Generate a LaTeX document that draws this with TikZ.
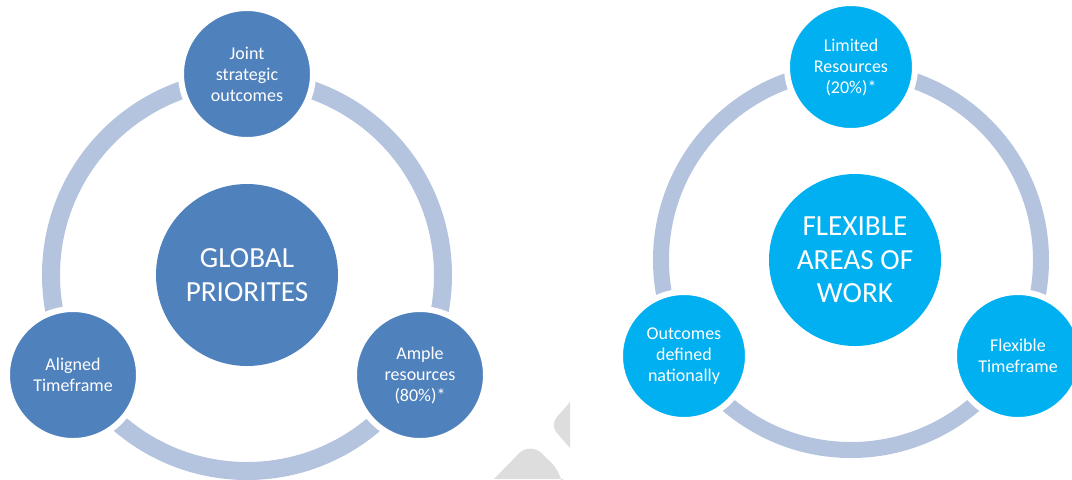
\documentclass[tikz,border=0pt]{standalone}
\usepackage{fontspec}
\setmainfont{Carlito}
\definecolor{globalblue}{RGB}{79,129,189}
\definecolor{flexblue}{RGB}{0,176,240}
\definecolor{ringgrey}{RGB}{180,195,222}
\definecolor{markgrey}{RGB}{221,221,221}
\tikzset{
  ring/.style={draw=ringgrey, line width=9pt},
  bigdisc/.style={circle, fill=#1, text=white, align=center,
    font=\fontsize{14.6}{16.7}\selectfont, inner sep=0pt},
  smalldisc/.style={circle, fill=#1, draw=white, line width=3pt, text=white,
    align=center, font=\fontsize{9}{10.5}\selectfont, inner sep=0pt, minimum size=66pt}
}
\begin{document}
\begin{tikzpicture}[x=0.5pt, y=-0.5pt]
  \useasboundingbox (0,0) rectangle (1072,479);

  % global priorities
  \coordinate (gc) at (247,275);
  \draw[ring] (gc) circle [radius=196];
  \node[bigdisc=globalblue, minimum size=91pt] (global) at (gc) {GLOBAL\\PRIORITES};
  \node[smalldisc=globalblue] (joint) at (247,74) {Joint\\strategic\\outcomes};
  \node[smalldisc=globalblue] (aligned) at (73,375) {Aligned\\Timeframe};
  \node[smalldisc=globalblue] (ample) at (420,375) {Ample\\resources\\(80\%)*};

  % flexible areas
  \coordinate (fc) at (851,260);
  \draw[ring, line width=8pt] (fc) circle [radius=190];
  \node[bigdisc=flexblue, minimum size=86pt] (flexible) at (855,260) {FLEXIBLE\\AREAS OF\\WORK};
  \node[smalldisc=flexblue, minimum size=64pt] (limited) at (851,67) {Limited\\Resources\\(20\%)*};
  \node[smalldisc=flexblue, minimum size=64pt] (outcomes) at (684,356) {Outcomes\\defined\\nationally};
  \node[smalldisc=flexblue, minimum size=64pt] (timeframe) at (1018,356) {Flexible\\Timeframe};

  % watermark
  \fill[markgrey] (570,402) [rounded corners=5pt] -- (550,425) [sharp corners] -- (570,448) -- cycle;
  \fill[markgrey] (494,479) [rounded corners=8pt] -- (530,442) -- (563,474) [sharp corners] -- (563,479) -- cycle;
\end{tikzpicture}
\end{document}
